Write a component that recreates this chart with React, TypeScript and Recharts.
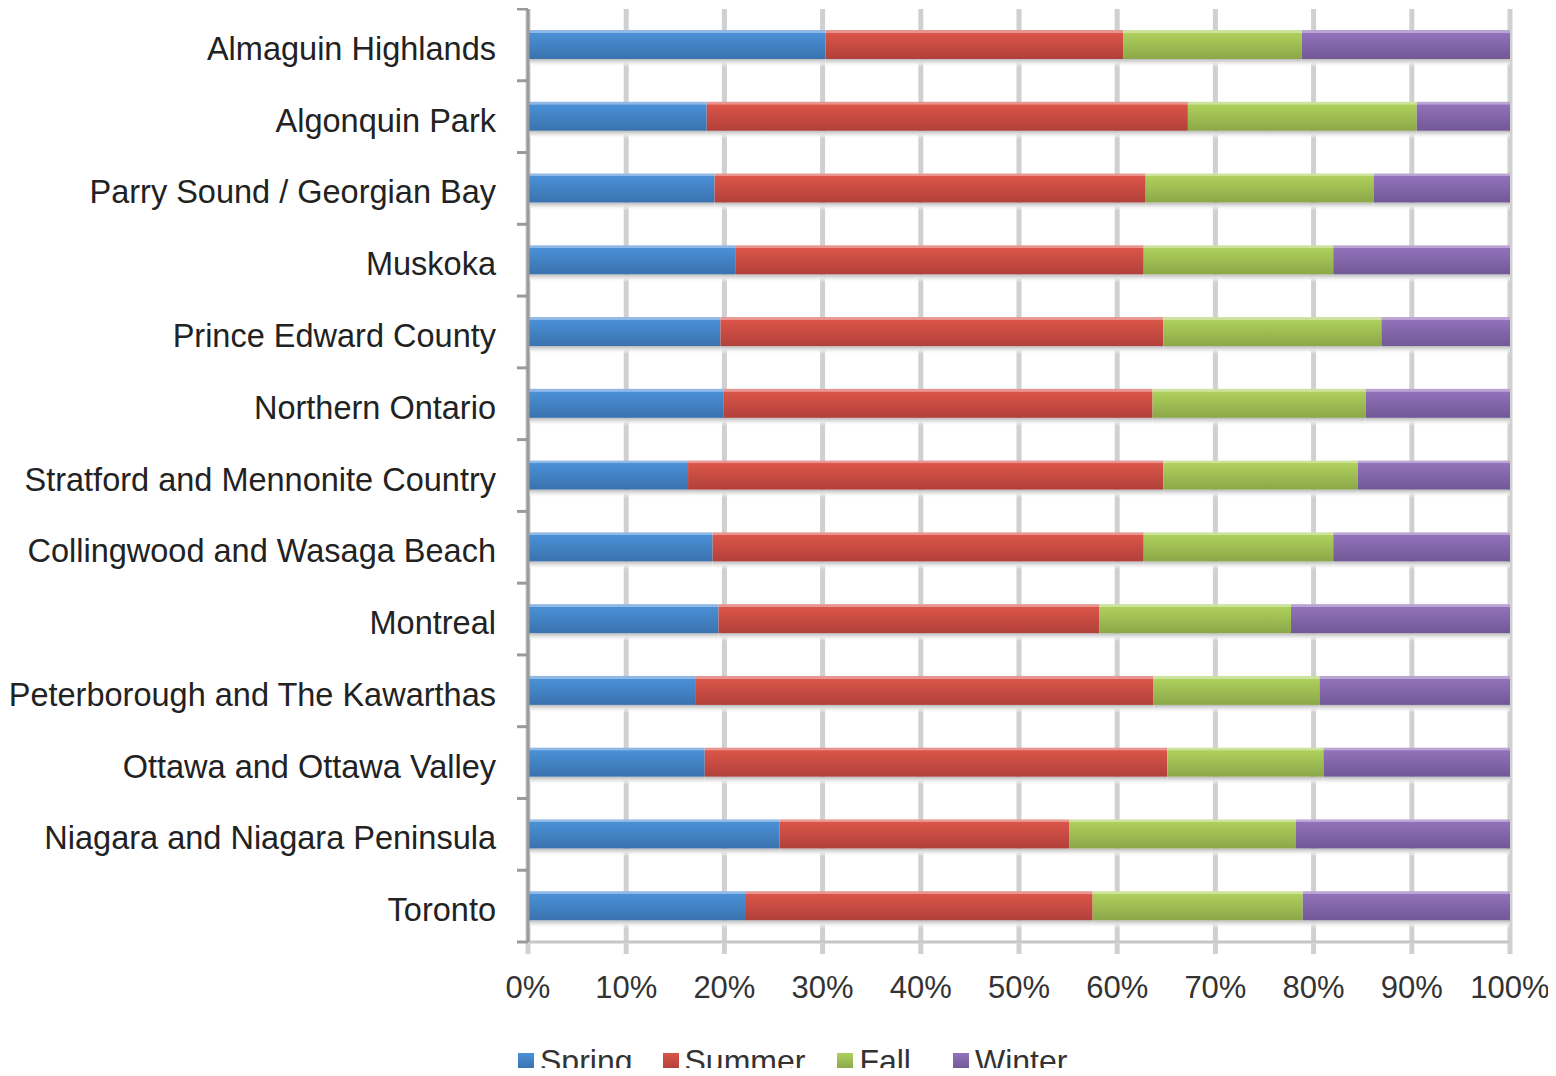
import { BarChart, Bar, XAxis, YAxis, CartesianGrid, Legend } from 'recharts';

const categories = [
    'Almaguin Highlands',
    'Algonquin Park',
    'Parry Sound / Georgian Bay',
    'Muskoka',
    'Prince Edward County',
    'Northern Ontario',
    'Stratford and Mennonite Country',
    'Collingwood and Wasaga Beach',
    'Montreal',
    'Peterborough and The Kawarthas',
    'Ottawa and Ottawa Valley',
    'Niagara and Niagara Peninsula',
    'Toronto',
];

const spring = [30.3, 18.2, 19.0, 21.1, 19.6, 19.9, 16.3, 18.8, 19.4, 17.1, 18.0, 25.6, 22.2];
const summer = [30.3, 49.0, 43.9, 41.6, 45.1, 43.7, 48.4, 43.9, 38.8, 46.6, 47.1, 29.5, 35.3];
const fall = [18.2, 23.3, 23.2, 19.3, 22.2, 21.7, 19.8, 19.3, 19.5, 16.9, 15.9, 23.1, 21.4];
const winter = [21.2, 9.5, 13.9, 18.0, 13.1, 14.7, 15.5, 18.0, 22.3, 19.4, 19.0, 21.8, 21.1];

const seasons = ['Spring', 'Summer', 'Fall', 'Winter'];
const xTicks = [0, 10, 20, 30, 40, 50, 60, 70, 80, 90, 100];

const data = categories.map((name, i) => ({
    name,
    Spring: spring[i],
    Summer: summer[i],
    Fall: fall[i],
    Winter: winter[i],
}));

// top highlight, top, bottom
const SHADES: Record<string, [string, string, string]> = {
    Spring: ['#8fb8e6', '#4a90d6', '#3a72ae'],
    Summer: ['#e8958f', '#db5549', '#b1403a'],
    Fall: ['#cde29c', '#aed05c', '#8ba748'],
    Winter: ['#b9a4d4', '#9172ba', '#715896'],
};
const LEGEND_GAP = [30, 32, 42, 0];

const FONT = '"Liberation Sans", Arial, sans-serif';
const W = 1548;
const H = 1068;
const PLOT_TOP = 1;
const PLOT_BOTTOM = 934;
const BAND = (PLOT_BOTTOM - PLOT_TOP) / categories.length;

function Segment(props: any) {
    const { x, y, width, height, season } = props;
    if (!width || width <= 0) return null;
    return (
        <g>
            <rect x={x} y={y + height} width={width} height={8} fill="url(#barShadow)" />
            <rect x={x} y={y} width={width} height={height} fill={`url(#grad-${season})`} />
        </g>
    );
}

function CategoryTick(props: any) {
    const { x, y, payload, index } = props;
    return (
        <g>
            <line x1={x - 11} x2={x} y1={y - BAND / 2} y2={y - BAND / 2} stroke="#9a9a9a" strokeWidth={3} />
            {index === categories.length - 1 && (
                <line x1={x - 11} x2={x} y1={y + BAND / 2} y2={y + BAND / 2} stroke="#9a9a9a" strokeWidth={3} />
            )}
            <text x={x - 32} y={y} dy={15} textAnchor="end" fontSize={32.5} fontFamily={FONT} fill="#222">
                {payload.value}
            </text>
        </g>
    );
}

function LegendContent() {
    return (
        <div style={{ display: 'flex', alignItems: 'center', height: 32, lineHeight: '32px', fontSize: 32, fontFamily: FONT, color: '#333', whiteSpace: 'nowrap' }}>
            {seasons.map((s, i) => (
                <div key={s} style={{ display: 'flex', alignItems: 'center', marginRight: LEGEND_GAP[i] }}>
                    <span
                        style={{
                            display: 'inline-block',
                            width: 16,
                            height: 16,
                            background: `linear-gradient(${SHADES[s][1]}, ${SHADES[s][2]})`,
                        }}
                    />
                    <span style={{ marginLeft: 6 }}>{s}</span>
                </div>
            ))}
        </div>
    );
}

export default function App() {
    return (
        <div style={{ width: W, height: H, overflow: 'hidden', marginBottom: -8 }}>
            <BarChart
                width={W}
                height={H}
                data={data}
                layout="vertical"
                margin={{ top: PLOT_TOP, right: 46, left: 0, bottom: 32 }}
                barCategoryGap={0}
            >
                <defs>
                    {seasons.map((s) => (
                        <linearGradient key={s} id={`grad-${s}`} x1="0" y1="0" x2="0" y2="1">
                            <stop offset="0%" stopColor={SHADES[s][0]} />
                            <stop offset="9%" stopColor={SHADES[s][0]} />
                            <stop offset="10%" stopColor={SHADES[s][1]} />
                            <stop offset="100%" stopColor={SHADES[s][2]} />
                        </linearGradient>
                    ))}
                    <linearGradient id="barShadow" x1="0" y1="0" x2="0" y2="1">
                        <stop offset="0%" stopColor="#bdbdbd" />
                        <stop offset="40%" stopColor="#e2e2e2" />
                        <stop offset="100%" stopColor="#ffffff" stopOpacity={0} />
                    </linearGradient>
                </defs>
                <CartesianGrid horizontal={false} stroke="#d0d0d0" strokeWidth={5} />
                <XAxis
                    type="number"
                    domain={[0, 100]}
                    ticks={xTicks}
                    interval={0}
                    tickFormatter={(v) => `${v}%`}
                    height={70}
                    tickSize={12}
                    tickMargin={22}
                    axisLine={{ stroke: '#c6c6c6', strokeWidth: 3 }}
                    tickLine={{ stroke: '#d0d0d0', strokeWidth: 5 }}
                    tick={{ fontSize: 31, fontFamily: FONT, fill: '#333' }}
                />
                <YAxis
                    type="category"
                    dataKey="name"
                    width={520}
                    interval={0}
                    tickSize={0}
                    tickMargin={0}
                    tickLine={false}
                    axisLine={{ stroke: '#9a9a9a', strokeWidth: 3 }}
                    tick={<CategoryTick />}
                />
                <Legend
                    verticalAlign="bottom"
                    content={<LegendContent />}
                    wrapperStyle={{ top: 1037, left: 510, bottom: 'auto', width: 'auto', height: 32 }}
                />
                {seasons.map((s) => (
                    <Bar
                        key={s}
                        dataKey={s}
                        stackId="a"
                        barSize={29}
                        isAnimationActive={false}
                        shape={(p: any) => <Segment {...p} season={s} />}
                    />
                ))}
            </BarChart>
        </div>
    );
}
